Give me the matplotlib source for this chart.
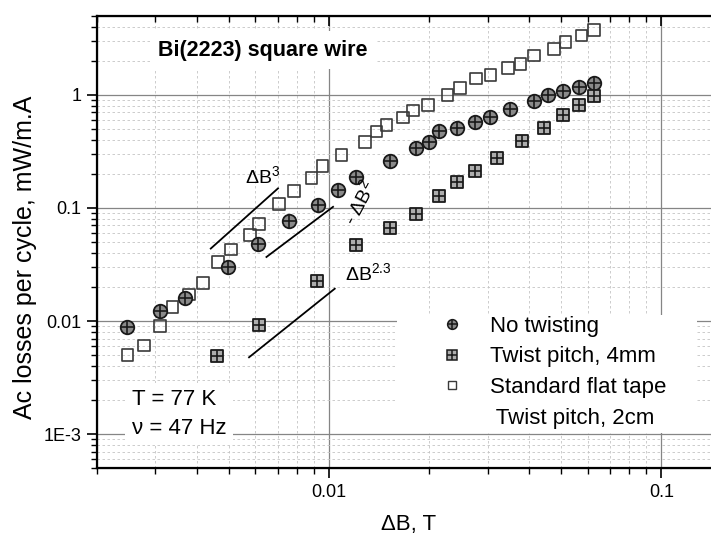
import matplotlib.pyplot as plt
from matplotlib.lines import Line2D
from matplotlib.patches import Rectangle
from matplotlib.ticker import FixedLocator, LogLocator, NullFormatter, FixedFormatter

plt.rcParams['font.family'] = ['Liberation Sans', 'DejaVu Sans']
plt.rcParams['mathtext.fontset'] = 'custom'
plt.rcParams['mathtext.rm'] = 'Liberation Sans'
plt.rcParams['mathtext.it'] = 'Liberation Sans:italic'

# Standard flat tape, twist pitch 2cm (open squares)
flat_db = [0.002475, 0.002776, 0.003095, 0.003380, 0.003783, 0.004177, 0.004635,
           0.005062, 0.005772, 0.006159, 0.007070, 0.007830, 0.008854, 0.009553,
           0.010897, 0.012805, 0.013885, 0.014882, 0.016697, 0.017856, 0.019812,
           0.022709, 0.024730, 0.027628, 0.030592, 0.034555, 0.037644, 0.041373,
           0.047424, 0.051429, 0.057438, 0.062560]
flat_loss = [0.00503, 0.00608, 0.00901, 0.0133, 0.0172, 0.0217, 0.0333,
             0.0429, 0.0574, 0.0718, 0.108, 0.141, 0.183, 0.236,
             0.294, 0.385, 0.475, 0.542, 0.629, 0.726, 0.815,
             1.00, 1.15, 1.39, 1.50, 1.72, 1.87, 2.22,
             2.54, 2.93, 3.33, 3.72]

# No twisting (circle with cross)
notwist_db = [0.002475, 0.003095, 0.003680, 0.004968, 0.006116, 0.007580, 0.009267,
              0.010643, 0.012088, 0.015226, 0.018230, 0.019950, 0.021380, 0.024340,
              0.027437, 0.030592, 0.035134, 0.041373, 0.045581, 0.050582, 0.056378,
              0.062560]
notwist_loss = [0.00883, 0.0122, 0.0161, 0.0301, 0.0478, 0.0764, 0.106,
                0.144, 0.189, 0.262, 0.337, 0.385, 0.483, 0.507,
                0.580, 0.642, 0.747, 0.890, 0.986, 1.07, 1.18,
                1.27]

# Twist pitch 4mm (square with cross)
twist4_db = [0.004603, 0.006159, 0.009215, 0.012088, 0.015226, 0.018320, 0.021380,
             0.024340, 0.027437, 0.032020, 0.038063, 0.044259, 0.050582, 0.056378,
             0.062560]
twist4_loss = [0.00496, 0.00933, 0.0227, 0.0473, 0.0666, 0.0876, 0.127,
               0.170, 0.213, 0.275, 0.391, 0.513, 0.665, 0.815,
               0.970]

# guide lines (start/end in data units)
guide3_db = [0.004407, 0.007021]
guide3_loss = [0.04375, 0.1489]
guide2_db = [0.006481, 0.010280]
guide2_loss = [0.03685, 0.1023]
guide23_db = [0.005745, 0.010402]
guide23_loss = [0.004786, 0.01933]

x_ticks = [0.01, 0.1]
x_tick_labels = ['0.01', '0.1']
y_ticks = [1e-3, 1e-2, 1e-1, 1]
y_tick_labels = ['1E-3', '0.01', '0.1', '1']

fig = plt.figure(figsize=(7.11, 5.36), dpi=100)
ax = fig.add_axes([0.136, 0.1263, 0.8767, 0.8444])
ax.set_xscale('log')
ax.set_yscale('log')
ax.set_xlim(0.002, 0.15)
ax.set_ylim(5e-4, 5)

ax.xaxis.set_major_locator(FixedLocator(x_ticks))
ax.xaxis.set_major_formatter(FixedFormatter(x_tick_labels))
ax.yaxis.set_major_locator(FixedLocator(y_ticks))
ax.yaxis.set_major_formatter(FixedFormatter(y_tick_labels))
for axis in (ax.xaxis, ax.yaxis):
    axis.set_minor_locator(LogLocator(base=10, subs=range(2, 10)))
    axis.set_minor_formatter(NullFormatter())

ax.tick_params(which='major', direction='out', length=7, width=1.2, labelsize=13, pad=4)
ax.tick_params(which='minor', direction='out', length=4, width=1.0)
for sp in ax.spines.values():
    sp.set_linewidth(1.6)

ax.set_axisbelow(True)
ax.grid(which='major', color='#858585', lw=0.9)
ax.grid(which='minor', color='#c4c4c4', lw=0.6, ls=(0, (3, 3)))

# top ticks point into the plot
axt = ax.twiny()
axt.set_xscale('log')
axt.set_xlim(ax.get_xlim())
axt.xaxis.set_major_locator(FixedLocator(x_ticks))
axt.xaxis.set_minor_locator(LogLocator(base=10, subs=range(2, 10)))
axt.xaxis.set_major_formatter(NullFormatter())
axt.xaxis.set_minor_formatter(NullFormatter())
axt.tick_params(axis='x', which='major', direction='in', length=7, width=1.2)
axt.tick_params(axis='x', which='minor', direction='in', length=4, width=1.0)

# white box behind legend
ax.add_patch(Rectangle((0.482, 0.078), 0.481, 0.261, transform=ax.transAxes,
                       facecolor='white', edgecolor='none', zorder=1))

circ_face, circ_edge = '#8a8a8a', '#1a1a1a'
sq_face = '#adadad'

ax.scatter(flat_db, flat_loss, marker='s', s=70, facecolors='none',
           edgecolors='#3a3a3a', linewidths=1.2, zorder=3)
ax.scatter(notwist_db, notwist_loss, marker='o', s=95, facecolors=circ_face,
           edgecolors=circ_edge, linewidths=1.3, zorder=4)
ax.scatter(notwist_db, notwist_loss, marker='+', s=95, color=circ_edge,
           linewidths=1.2, zorder=5)
ax.scatter(twist4_db, twist4_loss, marker='s', s=80, facecolors=sq_face,
           edgecolors='#1a1a1a', linewidths=1.3, zorder=4)
ax.scatter(twist4_db, twist4_loss, marker='+', s=80, color='#1a1a1a',
           linewidths=1.2, zorder=5)

for gx, gy in [(guide3_db, guide3_loss), (guide2_db, guide2_loss), (guide23_db, guide23_loss)]:
    ax.plot(gx, gy, color='black', lw=1.3, zorder=3)

ax.text(0.00559, 0.166, r'ΔB$^{3}$', fontsize=14, ha='left', va='baseline', zorder=6)
ax.text(0.01237, 0.1103, r'- ΔB$^{2}$', fontsize=14, ha='center', va='center',
        rotation=62, zorder=6)
ax.text(0.01115, 0.0229, r'ΔB$^{2.3}$', fontsize=14, ha='left', va='baseline', zorder=6)

ax.text(0.2668, 0.9242, 'Bi(2223) square wire', transform=ax.transAxes, fontsize=15.5,
        fontweight='bold', ha='center', va='center', zorder=6,
        bbox=dict(facecolor='white', edgecolor='none', pad=6))
ax.text(0.0566, 0.12, 'T = 77 K\nν = 47 Hz', transform=ax.transAxes, fontsize=16,
        ha='left', va='center', linespacing=1.45, zorder=6,
        bbox=dict(facecolor='white', edgecolor='none', pad=5))

handles = [
    (Line2D([], [], ls='none', marker='o', ms=7, mfc=circ_face, mec=circ_edge, mew=1.1),
     Line2D([], [], ls='none', marker='+', ms=7, mec=circ_edge, mew=1.1)),
    (Line2D([], [], ls='none', marker='s', ms=6.5, mfc=sq_face, mec='#1a1a1a', mew=1.1),
     Line2D([], [], ls='none', marker='+', ms=6.5, mec='#1a1a1a', mew=1.1)),
    Line2D([], [], ls='none', marker='s', ms=6, mfc='none', mec='#3a3a3a', mew=1.0),
    Line2D([], [], ls='none'),
]
labels = ['No twisting', 'Twist pitch, 4mm', 'Standard flat tape', ' Twist pitch, 2cm']
leg = ax.legend(handles, labels, loc='upper left', bbox_to_anchor=(0.5524, 0.3376),
                frameon=False, fontsize=16, borderpad=0, borderaxespad=0,
                handlelength=1.0, handletextpad=1.2, labelspacing=0.44)
leg.set_zorder(7)

ax.set_xlabel('ΔB, T', fontsize=16, labelpad=10)
ax.set_ylabel('Ac losses per cycle, mW/m.A', fontsize=18)
ax.yaxis.set_label_coords(-0.096, 0.467)

fig.savefig('out.png', dpi=100)
